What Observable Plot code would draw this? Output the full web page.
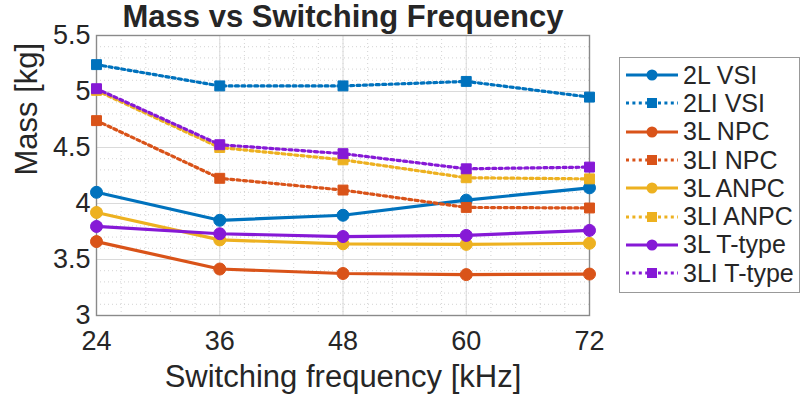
<!DOCTYPE html>
<html><head><meta charset="utf-8">
<script src="https://cdn.jsdelivr.net/npm/d3@7"></script>
<script src="https://cdn.jsdelivr.net/npm/@observablehq/plot@0.6"></script>
<style>
body{margin:0;background:#fff;font-family:"Liberation Sans",Arial,sans-serif;}
#wrap{position:relative;width:800px;height:403px;overflow:hidden;}
#legend{position:absolute;left:619px;top:57px;width:181px;height:236px;box-sizing:border-box;border:1.3px solid #999;background:#fff;padding-top:3px;}
.row{display:flex;align-items:center;height:28.3px;}
.row svg{margin-left:5px;flex:none;}
.row span{font-size:25px;color:#262626;margin-left:4px;white-space:nowrap;}
</style></head>
<body><div id="wrap"></div>
<script>
const freqs = [24, 36, 48, 60, 72];
const seriesNames = ["2L VSI","2LI VSI","3L NPC","3LI NPC","3L ANPC","3LI ANPC","3L T-type","3LI T-type"];
const mass_2L_VSI   = [4.10, 3.85, 3.895, 4.03, 4.14];
const mass_2LI_VSI  = [5.24, 5.05, 5.05, 5.09, 4.95];
const mass_3L_NPC   = [3.66, 3.415, 3.375, 3.365, 3.37];
const mass_3LI_NPC  = [4.74, 4.225, 4.12, 3.965, 3.96];
const mass_3L_ANPC  = [3.92, 3.675, 3.64, 3.635, 3.645];
const mass_3LI_ANPC = [5.01, 4.50, 4.39, 4.23, 4.22];
const mass_3L_TT    = [3.795, 3.73, 3.705, 3.715, 3.76];
const mass_3LI_TT   = [5.025, 4.525, 4.445, 4.31, 4.325];
const xTicks = [24, 36, 48, 60, 72];
const yTicks = [3, 3.5, 4, 4.5, 5, 5.5];
const yTickLabels = ["3", "3.5", "4", "4.5", "5", "5.5"];

const seriesValues = [mass_2L_VSI, mass_2LI_VSI, mass_3L_NPC, mass_3LI_NPC, mass_3L_ANPC, mass_3LI_ANPC, mass_3L_TT, mass_3LI_TT];
const colors = ["#0072BD","#0072BD","#D95319","#D95319","#EDB120","#EDB120","#8619D6","#8619D6"];
const dotted = [false,true,false,true,false,true,false,true];

const data = [];
seriesNames.forEach((name, i) => {
  seriesValues[i].forEach((v, j) => data.push({series: name, f: freqs[j], m: v, i}));
});

const xMinor = d3.range(24, 72.001, 2.4);
const yMinor = d3.range(3, 5.5001, 0.1);

const marks = [
  Plot.gridX(xMinor, {stroke: "#c8c8c8", strokeOpacity: 1, strokeDasharray: "1,3", strokeWidth: 0.8}),
  Plot.gridY(yMinor, {stroke: "#c8c8c8", strokeOpacity: 1, strokeDasharray: "1,3", strokeWidth: 0.8}),
  Plot.gridX(xTicks, {stroke: "#dadada", strokeOpacity: 1, strokeWidth: 1}),
  Plot.gridY(yTicks, {stroke: "#dadada", strokeOpacity: 1, strokeWidth: 1}),
  Plot.frame({stroke: "#8a8a8a", strokeWidth: 1.4}),
  Plot.axisX(xTicks, {tickSize: 0, tickPadding: 15, fontSize: 27, fill: "#262626", label: null}),
  Plot.axisY(yTicks, {tickSize: 0, tickPadding: 6, fontSize: 27, fill: "#262626", label: null, tickFormat: (d, k) => yTickLabels[k]}),
];
seriesNames.forEach((name, i) => {
  const d = data.filter(r => r.i === i);
  marks.push(Plot.line(d, {x: "f", y: "m", stroke: colors[i], strokeWidth: 3.2, strokeDasharray: dotted[i] ? "3,3.4" : null}));
  marks.push(Plot.dot(d, {x: "f", y: "m", fill: colors[i], stroke: colors[i], strokeWidth: 1, symbol: dotted[i] ? "square" : "circle", r: dotted[i] ? 5.6 : 6}));
});
marks.push(
  Plot.text(["Mass vs Switching Frequency"], {frameAnchor: "top", dy: -9, lineAnchor: "bottom", fontSize: 31, fontWeight: "bold", fill: "#262626"}),
  Plot.text(["Switching frequency [kHz]"], {frameAnchor: "bottom", dy: 71, lineAnchor: "bottom", fontSize: 31, fill: "#262626"}),
  Plot.text(["Mass [kg]"], {frameAnchor: "left", dx: -60, lineAnchor: "bottom", rotate: -90, fontSize: 31, fill: "#262626"})
);

const chart = Plot.plot({
  width: 800, height: 403,
  marginLeft: 96, marginRight: 211, marginTop: 35, marginBottom: 88,
  style: {fontFamily: '"Liberation Sans", Arial, sans-serif', background: "#fff", overflow: "visible"},
  x: {domain: [24, 72]},
  y: {domain: [3, 5.5]},
  marks
});
const wrap = document.getElementById("wrap");
wrap.appendChild(chart);

const legend = document.createElement("div");
legend.id = "legend";
seriesNames.forEach((name, i) => {
  const row = document.createElement("div");
  row.className = "row";
  const svg = d3.create("svg").attr("width", 54).attr("height", 20);
  svg.append("line").attr("x1", 1).attr("x2", 53).attr("y1", 10).attr("y2", 10)
    .attr("stroke", colors[i]).attr("stroke-width", 3).attr("stroke-dasharray", dotted[i] ? "3,3.4" : null);
  if (dotted[i]) svg.append("rect").attr("x", 22).attr("y", 5).attr("width", 10).attr("height", 10).attr("fill", colors[i]);
  else svg.append("circle").attr("cx", 27).attr("cy", 10).attr("r", 5.5).attr("fill", colors[i]);
  row.appendChild(svg.node());
  const sp = document.createElement("span");
  sp.textContent = name;
  row.appendChild(sp);
  legend.appendChild(row);
});
wrap.appendChild(legend);
</script></body></html>
